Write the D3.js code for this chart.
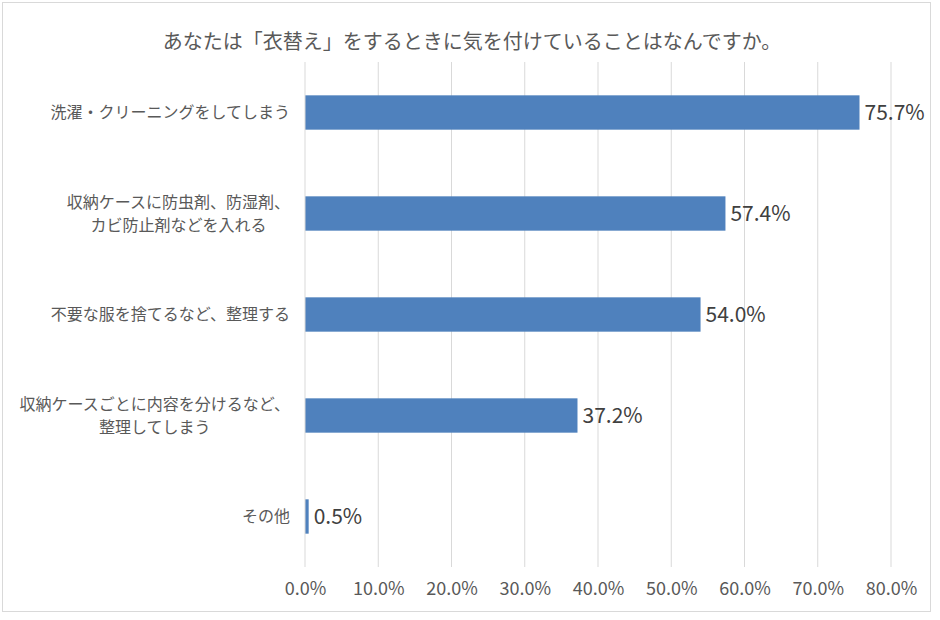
<!DOCTYPE html>
<html><head><meta charset="utf-8">
<script src="https://cdn.jsdelivr.net/npm/d3@7"></script>
<style>body{margin:0;background:#fff}</style>
</head><body>
<svg id="c" width="940" height="620"></svg>
<script>
const title = "あなたは「衣替え」をするときに気を付けていることはなんですか。";
const categories = [
  ["洗濯・クリーニングをしてしまう"],
  ["収納ケースに防虫剤、防湿剤、", "カビ防止剤などを入れる"],
  ["不要な服を捨てるなど、整理する"],
  ["収納ケースごとに内容を分けるなど、", "整理してしまう"],
  ["その他"]
];
const values = [75.7, 57.4, 54.0, 37.2, 0.5];
const ticks = [0, 10, 20, 30, 40, 50, 60, 70, 80];

const svg = d3.select("#c");
const jp = "'Noto Sans CJK JP', 'Noto Sans', sans-serif";
svg.append("rect").attr("x", 2.5).attr("y", 2.5).attr("width", 928).attr("height", 609)
  .attr("fill", "#fff").attr("stroke", "#d9d9d9");

const x = d3.scaleLinear().domain([0, 80]).range([305, 891]);
const y = d3.scaleBand().domain(d3.range(categories.length)).range([62, 567]).paddingInner(0.66).paddingOuter(0.33);

svg.append("text").attr("x", 472).attr("y", 49).attr("text-anchor", "middle")
  .attr("font-family", jp).attr("font-size", 20).attr("fill", "#595959").text(title);

// gridlines
svg.append("g").selectAll("line").data(ticks.slice(1)).join("line")
  .attr("x1", d => x(d)).attr("x2", d => x(d)).attr("y1", 62).attr("y2", 567)
  .attr("stroke", "#d9d9d9").attr("stroke-width", 1);

// x axis labels
const xa = svg.append("g").attr("transform", "translate(0,567)")
  .call(d3.axisBottom(x).tickValues(ticks).tickSize(0).tickPadding(15).tickFormat(d => d.toFixed(1) + "%"));
xa.select(".domain").remove();
xa.selectAll("text").attr("font-family", jp).attr("font-size", 18).attr("fill", "#595959");

// bars
svg.append("g").selectAll("rect").data(values).join("rect")
  .attr("x", x(0)).attr("y", (d, i) => y(i)).attr("width", d => x(d) - x(0)).attr("height", y.bandwidth())
  .attr("fill", "#4f81bd");

// axis line
svg.append("line").attr("x1", x(0)).attr("x2", x(0)).attr("y1", 62).attr("y2", 567).attr("stroke", "#d9d9d9");

// value labels
svg.append("g").selectAll("text").data(values).join("text")
  .attr("x", d => x(d) + 5).attr("y", (d, i) => y(i) + y.bandwidth() / 2).attr("dy", "0.36em")
  .attr("font-family", jp).attr("font-size", 21).attr("fill", "#404040")
  .text(d => d.toFixed(1) + "%");

// category labels
const lh = 23;
categories.forEach((lines, i) => {
  const cy = y(i) + y.bandwidth() / 2;
  const g = svg.append("g");
  const ts = lines.map((l, j) => g.append("text")
    .attr("y", cy + (j - (lines.length - 1) / 2) * lh).attr("dy", "0.36em")
    .attr("font-family", jp).attr("font-size", 16).attr("fill", "#595959").attr("text-anchor", "middle").text(l));
  const widths = ts.map(t => t.node().getComputedTextLength());
  const w = d3.max(widths);
  const right = 290;
  ts.forEach(t => t.attr("x", right - w / 2));
});
</script>
</body></html>
